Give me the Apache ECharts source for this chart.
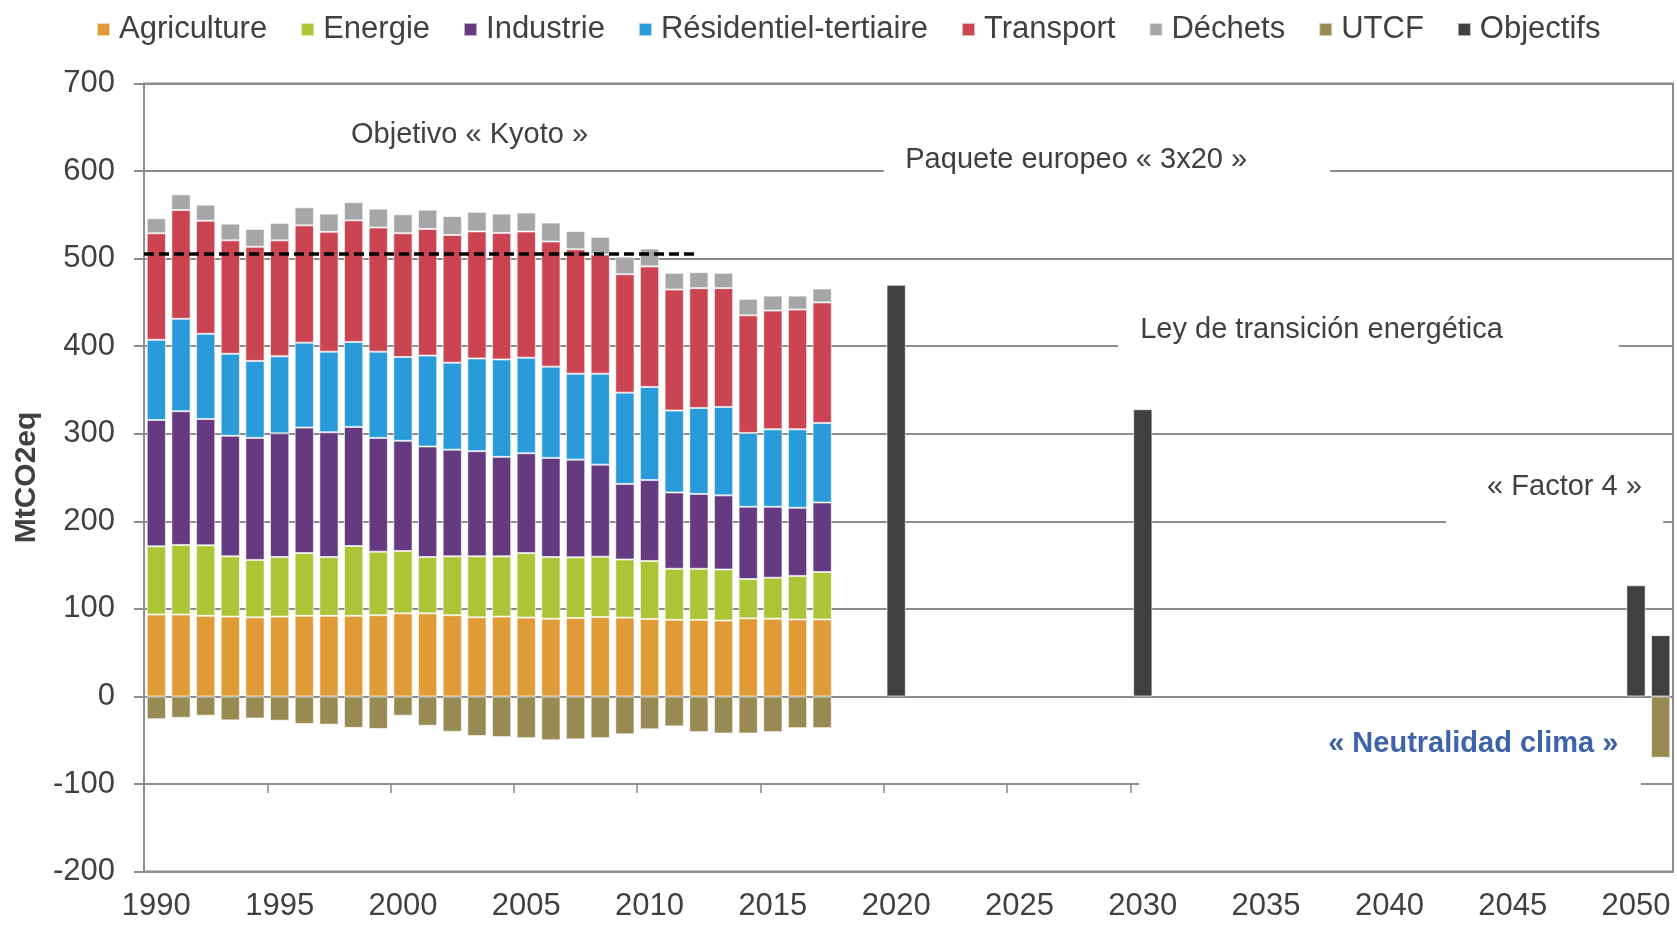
<!DOCTYPE html>
<html>
<head>
<meta charset="utf-8">
<title>Emisiones de GEI - Francia</title>
<script src="https://cdn.jsdelivr.net/npm/echarts@6/dist/echarts.min.js"></script>
<style>
  html, body { margin: 0; padding: 0; background: #fff; }
  #chart { width: 1677px; height: 925px; }
</style>
</head>
<body>
<div id="chart"></div>
<script>
// eje de años: historico 1990-2017, objetivos hasta 2051
const firstYear = 1990;
const lastYear = 2051;
const years = [];
for (let y = firstYear; y <= lastYear; y++) years.push(String(y));

// MtCO2eq por sector, 1990 -> 2017
const agriculture = [93.6, 93.6, 92.0, 91.2, 90.4, 91.2, 92.0, 92.0, 92.0, 92.8, 94.9, 94.9, 92.8, 90.4, 91.2, 90.0, 88.8, 89.6, 90.8, 90.0, 88.4, 87.5, 87.5, 86.7, 89.2, 88.8, 87.9, 87.9];
const energie = [77.8, 79.4, 80.6, 68.8, 65.5, 68.0, 71.7, 67.2, 79.8, 72.5, 71.2, 64.3, 67.2, 69.6, 68.8, 73.7, 70.4, 69.2, 68.8, 66.4, 66.3, 58.3, 58.3, 58.3, 44.8, 46.8, 49.7, 54.2];
const industrie = [144.2, 152.7, 144.2, 137.6, 139.3, 141.3, 143.3, 142.5, 136.0, 129.9, 125.8, 126.2, 121.8, 120.1, 113.6, 114.0, 113.2, 111.6, 105.1, 86.3, 92.4, 87.1, 85.5, 84.6, 82.6, 81.0, 77.8, 79.4];
const residentiel = [91.6, 105.5, 97.3, 93.7, 87.9, 87.9, 96.9, 92.0, 96.9, 98.5, 95.7, 103.8, 99.3, 105.9, 111.2, 109.1, 104.2, 98.1, 103.8, 104.2, 106.3, 93.6, 98.1, 101.0, 84.3, 88.4, 89.6, 90.8];
const transport = [121.7, 124.2, 129.1, 129.5, 130.3, 132.4, 134.0, 136.8, 138.9, 141.7, 141.3, 144.6, 145.8, 145.0, 144.5, 144.1, 142.9, 142.1, 136.0, 135.2, 137.6, 138.1, 136.8, 135.6, 134.3, 135.6, 136.8, 137.6];
const dechets = [17.1, 17.9, 18.3, 19.1, 20.4, 19.9, 20.7, 20.8, 20.7, 21.6, 21.6, 22.0, 21.6, 22.3, 22.0, 21.6, 21.6, 20.8, 20.3, 19.9, 20.4, 19.1, 18.3, 17.5, 18.8, 17.1, 15.9, 15.9];
const utcf = [-26.0, -24.4, -22.0, -27.3, -25.2, -27.7, -31.4, -32.2, -35.8, -37.1, -22.0, -33.4, -40.3, -45.2, -46.4, -47.6, -50.0, -49.0, -47.6, -43.2, -37.5, -34.2, -40.7, -42.3, -42.3, -40.7, -36.2, -36.2];

// objetivos
const objYears = ['2020', '2030', '2050', '2051'];
const objValues = [470, 328, 127, 70];
const utcfTargetYears = ['2051'];
const utcfTargetValues = [-70];
const kyotoTarget = 505;
const kyotoEndYear = 2012;

const legendNames = ['Agriculture', 'Energie', 'Industrie', 'Résidentiel-tertiaire', 'Transport', 'Déchets', 'UTCF', 'Objectifs'];
const colors = ['#E09B36', '#AEC437', '#653A80', '#299BDA', '#CB4452', '#A6A6A6', '#978A52', '#404040'];

const textColor = '#404040';
const gridColor = '#8c8c8c';
const font = 'Liberation Sans, Arial, sans-serif';

function history(arr) {
  return years.map((y, i) => (i < arr.length ? arr[i] : null));
}
function targets(ys, vals) {
  return years.map(y => {
    const k = ys.indexOf(y);
    return k >= 0 ? vals[k] : null;
  });
}

const utcfAll = history(utcf);
targets(utcfTargetYears, utcfTargetValues).forEach((v, i) => { if (v !== null) utcfAll[i] = v; });

const seriesData = [
  history(agriculture),
  history(energie),
  history(industrie),
  history(residentiel),
  history(transport),
  history(dechets),
  utcfAll,
  targets(objYears, objValues)
];

// textos (x en años, y = centro del texto en MtCO2eq)
const notes = [
  { text: 'Objetivo « Kyoto »', x: 2002.7, y: 641 },
  { text: 'Paquete europeo « 3x20 »', x: 2027.3, y: 612.6 },
  { text: 'Ley de transición energética', x: 2037.25, y: 418.9 },
  { text: '« Factor 4 »', x: 2047.1, y: 239.5 },
  { text: '« Neutralidad clima »', x: 2043.4, y: -54.2, bold: true, color: '#3F62AD' }
];
// cuadros blancos detras de los textos (tapan la cuadricula): [x1, y1, x2, y2]
const boxes = [
  [2019.5, 637.6, 2037.6, 582.9],
  [2029.0, 443.6, 2049.3, 385.4],
  [2042.3, 264.3, 2051.1, 192.4],
  [2029.85, -17.7, 2050.2, -117]
];

const chart = echarts.init(document.getElementById('chart'));

const series = legendNames.map((name, i) => ({
  name: name,
  type: 'bar',
  stack: 'total',
  xAxisIndex: 0,
  yAxisIndex: 0,
  barCategoryGap: '22%',
  data: seriesData[i],
  itemStyle: {
    color: colors[i],
    borderColor: 'rgba(255,255,255,0.6)',
    borderWidth: 1
  }
}));

series.push({
  type: 'scatter',
  xAxisIndex: 2,
  yAxisIndex: 0,
  z: 10,
  silent: true,
  symbolSize: 1,
  itemStyle: { color: 'transparent', opacity: 1 },
  data: notes.map(n => ({
    value: [n.x, n.y],
    label: {
      show: true,
      position: 'inside',
      formatter: n.text,
      fontSize: 29,
      fontFamily: font,
      fontWeight: n.bold ? 'bold' : 'normal',
      color: n.color || textColor,
      opacity: 1
    }
  })),
  markArea: {
    silent: true,
    itemStyle: { color: '#ffffff', opacity: 1, borderWidth: 0 },
    label: { show: false },
    data: boxes.map(b => [{ coord: [b[0], b[1]] }, { coord: [b[2], b[3]] }])
  },
  markLine: {
    silent: true,
    symbol: 'none',
    label: { show: false },
    lineStyle: { color: '#000', type: [10, 5], width: 3.5, opacity: 1 },
    data: [[{ coord: [firstYear - 0.5, kyotoTarget] }, { coord: [kyotoEndYear, kyotoTarget] }]]
  }
});

const gridTop = 83.4;
const gridBottom = 53.4;
const gridHeight = 925 - gridTop - gridBottom;

const option = {
  animation: false,
  backgroundColor: '#fff',
  textStyle: { fontFamily: font, color: textColor },
  legend: {
    data: legendNames,
    left: 91,
    top: 9,
    icon: 'rect',
    itemWidth: 13,
    itemHeight: 13,
    itemGap: 33,
    textStyle: { fontSize: 31, color: textColor, padding: [0, 0, 0, 4] }
  },
  grid: {
    left: 144,
    right: 4,
    top: gridTop,
    bottom: gridBottom,
    show: true,
    borderColor: gridColor,
    borderWidth: 2
  },
  xAxis: [
    {
      type: 'category',
      data: years,
      position: 'bottom',
      axisLine: { show: false },
      axisTick: { show: false },
      axisLabel: { interval: 4, fontSize: 31, color: textColor, margin: 19 }
    },
    {
      // marcas del eje horizontal, cruzando en -100
      type: 'category',
      data: years,
      position: 'bottom',
      offset: -gridHeight / 9,
      axisLine: { show: false },
      axisLabel: { show: false },
      axisTick: { show: true, interval: 4, length: 9, lineStyle: { color: gridColor, width: 1.5 } }
    },
    {
      type: 'value',
      min: firstYear - 0.5,
      max: lastYear + 0.5,
      show: false
    }
  ],
  yAxis: {
    type: 'value',
    min: -200,
    max: 700,
    interval: 100,
    name: 'MtCO2eq',
    nameLocation: 'middle',
    nameGap: 96,
    nameTextStyle: { fontSize: 30, fontWeight: 'bold', color: textColor },
    axisLine: { show: true, lineStyle: { color: gridColor, width: 2 } },
    axisTick: { show: true, length: 10, lineStyle: { color: gridColor, width: 2 } },
    axisLabel: { fontSize: 31, color: textColor, margin: 29 },
    splitLine: { show: true, lineStyle: { color: gridColor, width: 2 } }
  },
  series: series
};

chart.setOption(option);
</script>
</body>
</html>
